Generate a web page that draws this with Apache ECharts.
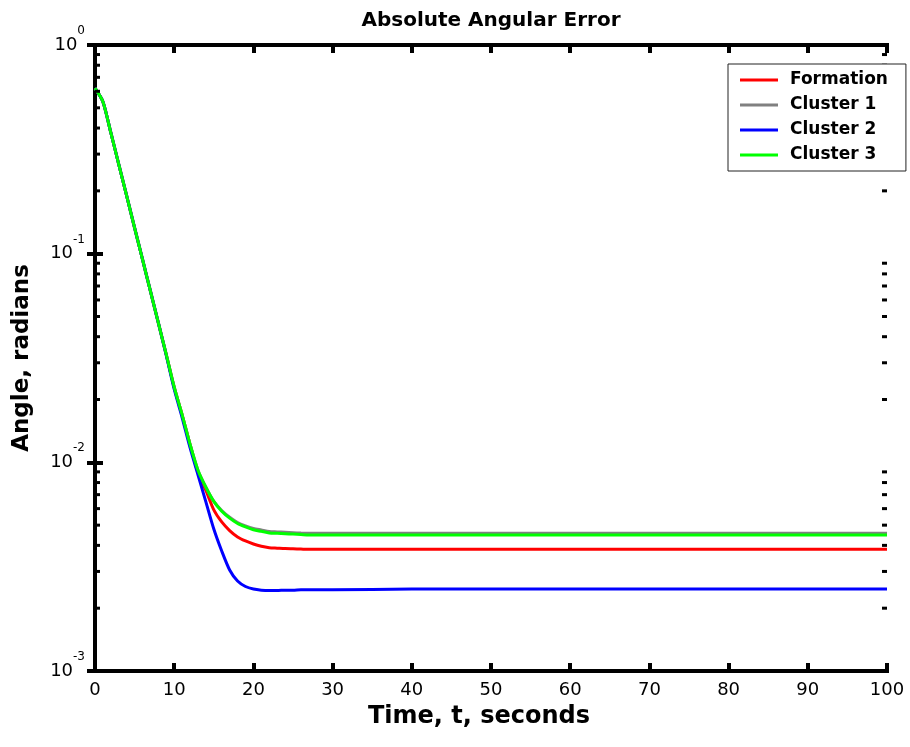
<!DOCTYPE html>
<html>
<head>
<meta charset="utf-8">
<script src="https://cdn.jsdelivr.net/npm/echarts@6/dist/echarts.min.js"></script>
<style>html,body{margin:0;padding:0;background:#fff}#chart{width:910px;height:747px}</style>
</head>
<body>
<div id="chart"></div>
<script>
// ---- data ----
const times = [0,1,2,3,4,5,6,7,8,9,10,11,12,13,14,15,16,17,18,19,20,21,22,23,24,25,26,27,28,29,30,40,50,60,70,80,90,100];
const formation = [0.621,0.535,0.380,0.268,0.189,0.133,0.0938,0.0661,0.0466,0.0328,0.0229,0.0169,0.0122,0.00891,0.00733,0.00592,0.00518,0.00471,0.00439,0.00420,0.00406,0.00396,0.00390,0.00388,0.00386,0.00385,0.00384,0.00383,0.00383,0.00383,0.00383,0.00383,0.00383,0.00383,0.00383,0.00383,0.00383,0.00383];
const cluster1 = [0.621,0.535,0.380,0.268,0.189,0.133,0.0938,0.0661,0.0466,0.0328,0.0229,0.0169,0.0122,0.00917,0.00760,0.00650,0.00588,0.00546,0.00515,0.00496,0.00482,0.00474,0.00466,0.00464,0.00462,0.00460,0.00458,0.00457,0.00457,0.00457,0.00457,0.00457,0.00457,0.00457,0.00457,0.00457,0.00457,0.00457];
const cluster2 = [0.621,0.535,0.380,0.268,0.189,0.133,0.0938,0.0661,0.0466,0.0325,0.0224,0.0164,0.01175,0.00871,0.00646,0.00479,0.00376,0.00305,0.00270,0.00254,0.00247,0.00244,0.00243,0.00243,0.00244,0.00244,0.00245,0.00245,0.00245,0.00245,0.00245,0.00247,0.00247,0.00247,0.00247,0.00247,0.00247,0.00247];
const cluster3 = [0.621,0.535,0.380,0.268,0.189,0.133,0.0938,0.0661,0.0466,0.0328,0.0229,0.0169,0.0122,0.00917,0.00760,0.00650,0.00583,0.00540,0.00509,0.00490,0.00475,0.00467,0.00459,0.00457,0.00455,0.00453,0.00451,0.00449,0.00449,0.00449,0.00449,0.00449,0.00449,0.00449,0.00449,0.00449,0.00449,0.00449];
const seriesNames = ['Formation','Cluster 1','Cluster 2','Cluster 3'];
const xTickValues = [0,10,20,30,40,50,60,70,80,90,100];
const yTickExponents = [-3,-2,-1,0];
const minorTickValues = [0.002,0.003,0.004,0.005,0.006,0.007,0.008,0.009,0.02,0.03,0.04,0.05,0.06,0.07,0.08,0.09,0.2,0.3,0.4,0.5,0.6,0.7,0.8,0.9];
const titleText = 'Absolute Angular Error';
const xName = 'Time, t, seconds';
const yName = 'Angle, radians';

// ---- styling ----
const FONT = 'DejaVu Sans';
const colors = ['#ff0000','#808080','#0000ff','#00ff00'];
const xMin = xTickValues[0], xMax = xTickValues[xTickValues.length-1];
const yMin = Math.pow(10, yTickExponents[0]), yMax = Math.pow(10, yTickExponents[yTickExponents.length-1]);

const chart = echarts.init(document.getElementById('chart'), null, {renderer:'canvas'});

const axisLine = {show:true, lineStyle:{color:'#000', width:4, cap:'square'}};
const mkSeries = (name, vals, i) => ({
  name, type:'line', data: times.map((t, k) => [t, vals[k]]),
  xAxisIndex:0, yAxisIndex:0, showSymbol:false, symbol:'none',
  smooth:0.25,
  lineStyle:{color:colors[i], width:3}, itemStyle:{color:colors[i]},
  z: 3 + i
});

const mkMinorTicks = (side) => ({
  type:'custom', name:'minor ticks ' + side, xAxisIndex:0, yAxisIndex:0, silent:true, clip:false, z:10,
  data: minorTickValues.map(v => [side === 'left' ? xMin : xMax, v]),
  encode:{x:0, y:1},
  renderItem:(params, api) => {
    const p = api.coord([api.value(0), api.value(1)]);
    const x0 = side === 'left' ? p[0] : p[0] - 5;
    return {type:'rect', shape:{x:x0, y:p[1] - 1.5, width:5, height:3}, style:{fill:'#000'}};
  }
});

const option = {
  animation:false,
  backgroundColor:'#fff',
  title:{
    text:titleText, left:491, top:11, padding:0, textAlign:'center',
    textStyle:{fontFamily:FONT, fontWeight:'bold', fontSize:20, color:'#000'}
  },
  grid:{left:95, right:23, top:45, bottom:76, containLabel:false},
  legend:{
    data:seriesNames, orient:'vertical', left:728, top:64,
    padding:[6,18,6,12], itemGap:5, itemWidth:38, itemHeight:3, icon:'rect',
    backgroundColor:'#fff', borderColor:'#222', borderWidth:1,
    textStyle:{fontFamily:FONT, fontWeight:'bold', fontSize:17, lineHeight:20, color:'#000', padding:[0,0,0,7]},
    z: 20
  },
  xAxis:[
    {type:'value', position:'bottom', min:xMin, max:xMax, interval:10,
     axisLine, splitLine:{show:false},
     axisTick:{show:true, inside:true, length:8, lineStyle:{color:'#000', width:4}},
     axisLabel:{show:true, margin:10, fontFamily:FONT, fontSize:18, color:'#000'},
     name:xName, nameLocation:'middle', nameGap:34,
     nameTextStyle:{fontFamily:FONT, fontWeight:'bold', fontSize:24, color:'#000', padding:[0,24,0,0]}},
    {type:'value', position:'top', min:xMin, max:xMax, interval:10,
     axisLine, splitLine:{show:false},
     axisTick:{show:true, inside:true, length:8, lineStyle:{color:'#000', width:4}},
     axisLabel:{show:false}}
  ],
  yAxis:[
    {type:'log', logBase:10, position:'left', min:yMin, max:yMax,
     axisLine, splitLine:{show:false},
     axisTick:{show:true, inside:true, length:8, lineStyle:{color:'#000', width:4}},
     axisLabel:{show:true, margin:10,
       formatter:(v) => { const e = Math.round(Math.log10(v)); return '{b|10}{s|' + e + '}'; },
       rich:{
         b:{fontFamily:FONT, fontSize:18, color:'#000', lineHeight:40, verticalAlign:'middle'},
         s:{fontFamily:FONT, fontSize:12, color:'#000', lineHeight:14, verticalAlign:'top'}
       }},
     name:yName, nameLocation:'middle', nameGap:61,
     nameTextStyle:{fontFamily:FONT, fontWeight:'bold', fontSize:23, color:'#000'}},
    {type:'log', logBase:10, position:'right', min:yMin, max:yMax,
     axisLine, splitLine:{show:false},
     axisTick:{show:true, inside:true, length:8, lineStyle:{color:'#000', width:4}},
     axisLabel:{show:false}}
  ],
  series:[
    mkSeries(seriesNames[0], formation, 0),
    mkSeries(seriesNames[1], cluster1, 1),
    mkSeries(seriesNames[2], cluster2, 2),
    mkSeries(seriesNames[3], cluster3, 3),
    mkMinorTicks('left'),
    mkMinorTicks('right')
  ]
};
chart.setOption(option);
</script>
</body>
</html>
